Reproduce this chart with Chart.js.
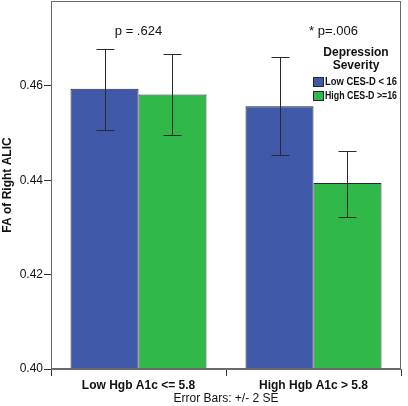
<!DOCTYPE html>
<html><head><meta charset="utf-8">
<script src="https://cdn.jsdelivr.net/npm/chart.js@4"></script>
<style>html,body{margin:0;padding:0;background:#fff}</style>
</head><body>
<canvas id="c" width="408" height="406" style="display:block;width:408px;height:406px"></canvas>
<script>
const categories = ['Low Hgb A1c <= 5.8', 'High Hgb A1c > 5.8'];
const seriesNames = ['Low CES-D < 16', 'High CES-D >=16'];
const lowCesD = [0.4594, 0.4557];
const highCesD = [0.4582, 0.4394];
const lowCesDErrLow = [0.4507, 0.4453];
const lowCesDErrHigh = [0.4679, 0.4662];
const highCesDErrLow = [0.4497, 0.4323];
const highCesDErrHigh = [0.4667, 0.4462];
const yTicks = [0.40, 0.42, 0.44, 0.46];
const pLabels = ['p = .624', '* p=.006'];
const legendTitle = ['Depression', 'Severity'];
const yTitle = 'FA of Right ALIC';
const xTitle = 'Error Bars: +/- 2 SE';

const colors = ['#4058a8', '#30b848'];
const errLow = [lowCesDErrLow, highCesDErrLow];
const errHigh = [lowCesDErrHigh, highCesDErrHigh];
const FONT = "'Liberation Sans', Arial, sans-serif";

const boxPlugin = {
  id: 'box',
  afterDatasetsDraw(chart) {
    const {ctx, chartArea: a} = chart;
    ctx.save();
    ctx.strokeStyle = '#6a6a6a';
    ctx.lineWidth = 1;
    ctx.strokeRect(Math.round(a.left) + 0.5, Math.round(a.top) + 0.5, Math.round(a.right - a.left) - 1, Math.round(a.bottom - a.top) - 1);
    ctx.restore();
  }
};

const errPlugin = {
  id: 'err',
  afterDatasetsDraw(chart) {
    const {ctx} = chart;
    const ys = chart.scales.y;
    ctx.save();
    ctx.strokeStyle = '#2a2a2a';
    ctx.lineWidth = 1;
    chart.data.datasets.forEach((ds, d) => {
      const meta = chart.getDatasetMeta(d);
      meta.data.forEach((bar, i) => {
        const x = Math.round(bar.x) + 0.5;
        const yh = Math.round(ys.getPixelForValue(errHigh[d][i])) + 0.5;
        const yl = Math.round(ys.getPixelForValue(errLow[d][i])) + 0.5;
        ctx.beginPath();
        ctx.moveTo(x, yh); ctx.lineTo(x, yl);
        ctx.moveTo(x - 9, yh); ctx.lineTo(x + 9, yh);
        ctx.moveTo(x - 9, yl); ctx.lineTo(x + 9, yl);
        ctx.stroke();
      });
    });
    ctx.restore();
  }
};

function fitText(ctx, text, x, y, maxW) {
  const w = ctx.measureText(text).width;
  const k = Math.min(1, maxW / w);
  ctx.save();
  ctx.translate(x, y);
  ctx.scale(k, 1);
  ctx.fillText(text, 0, 0);
  ctx.restore();
}

const textPlugin = {
  id: 'texts',
  afterDraw(chart) {
    const {ctx, chartArea: a} = chart;
    const xs = chart.scales.x;
    ctx.save();
    ctx.fillStyle = '#111';
    ctx.font = '13px ' + FONT;
    ctx.textAlign = 'center';
    ctx.textBaseline = 'middle';
    const shift = [0, 20];
    pLabels.forEach((t, i) => ctx.fillText(t, xs.getPixelForValue(i) + shift[i], a.top + 30));
    // legend
    const lx = a.right - 45;
    ctx.font = 'bold 12px ' + FONT;
    ctx.fillText(legendTitle[0], lx, a.top + 52);
    ctx.fillText(legendTitle[1], lx, a.top + 65);
    ctx.font = 'bold 10.5px ' + FONT;
    ctx.textAlign = 'left';
    seriesNames.forEach((n, i) => {
      const yy = a.top + 81 + i * 14;
      ctx.fillStyle = colors[i];
      ctx.fillRect(a.left + 262.5, yy - 4.5, 10, 9);
      ctx.strokeStyle = '#1e2a30';
      ctx.lineWidth = 1;
      ctx.strokeRect(a.left + 262.5, yy - 4.5, 10, 9);
      ctx.fillStyle = '#111';
      fitText(ctx, n, a.left + 274, yy + 0.5, 72);
    });
    ctx.restore();
  }
};

new Chart(document.getElementById('c'), {
  type: 'bar',
  data: {
    labels: categories,
    datasets: [
      { label: seriesNames[0], data: lowCesD, backgroundColor: colors[0], borderColor: '#1e2a30', borderWidth: 1 },
      { label: seriesNames[1], data: highCesD, backgroundColor: colors[1], borderColor: '#1e2a30', borderWidth: 1 }
    ]
  },
  options: {
    responsive: false,
    animation: false,
    devicePixelRatio: 1,
    layout: { padding: { top: 1, right: 7, left: 0, bottom: 0 } },
    plugins: { legend: { display: false }, tooltip: { enabled: false } },
    datasets: { bar: { categoryPercentage: 0.777, barPercentage: 1.0 } },
    scales: {
      x: {
        offset: true,
        grid: { drawOnChartArea: false, drawTicks: true, tickLength: 7, color: '#333' },
        border: { display: true, color: '#6a6a6a' },
        ticks: { color: '#111', font: { family: FONT, size: 12, weight: 'bold' }, padding: 2, maxRotation: 0 },
        title: { display: true, text: xTitle, color: '#111', font: { family: FONT, size: 12 }, padding: { top: 0, bottom: 0 } },
        afterFit(s) { s.height = 37; s.paddingLeft = 0; s.paddingRight = 0; }
      },
      y: {
        min: 0.40,
        max: 0.478,
        afterBuildTicks(s) { s.ticks = yTicks.map(v => ({ value: v })); },
        grid: { drawOnChartArea: false, drawTicks: true, tickLength: 7, color: '#333' },
        border: { display: true, color: '#6a6a6a' },
        ticks: { color: '#111', font: { family: FONT, size: 12 }, padding: 1, callback: v => v.toFixed(2) },
        title: { display: true, text: yTitle, color: '#111', font: { family: FONT, size: 12, weight: 'bold' }, padding: { top: 0, bottom: 0 } },
        afterFit(s) { s.width = 51; s.paddingTop = 0; s.paddingBottom = 0; }
      }
    }
  },
  plugins: [boxPlugin, errPlugin, textPlugin]
});
</script>
</body></html>
